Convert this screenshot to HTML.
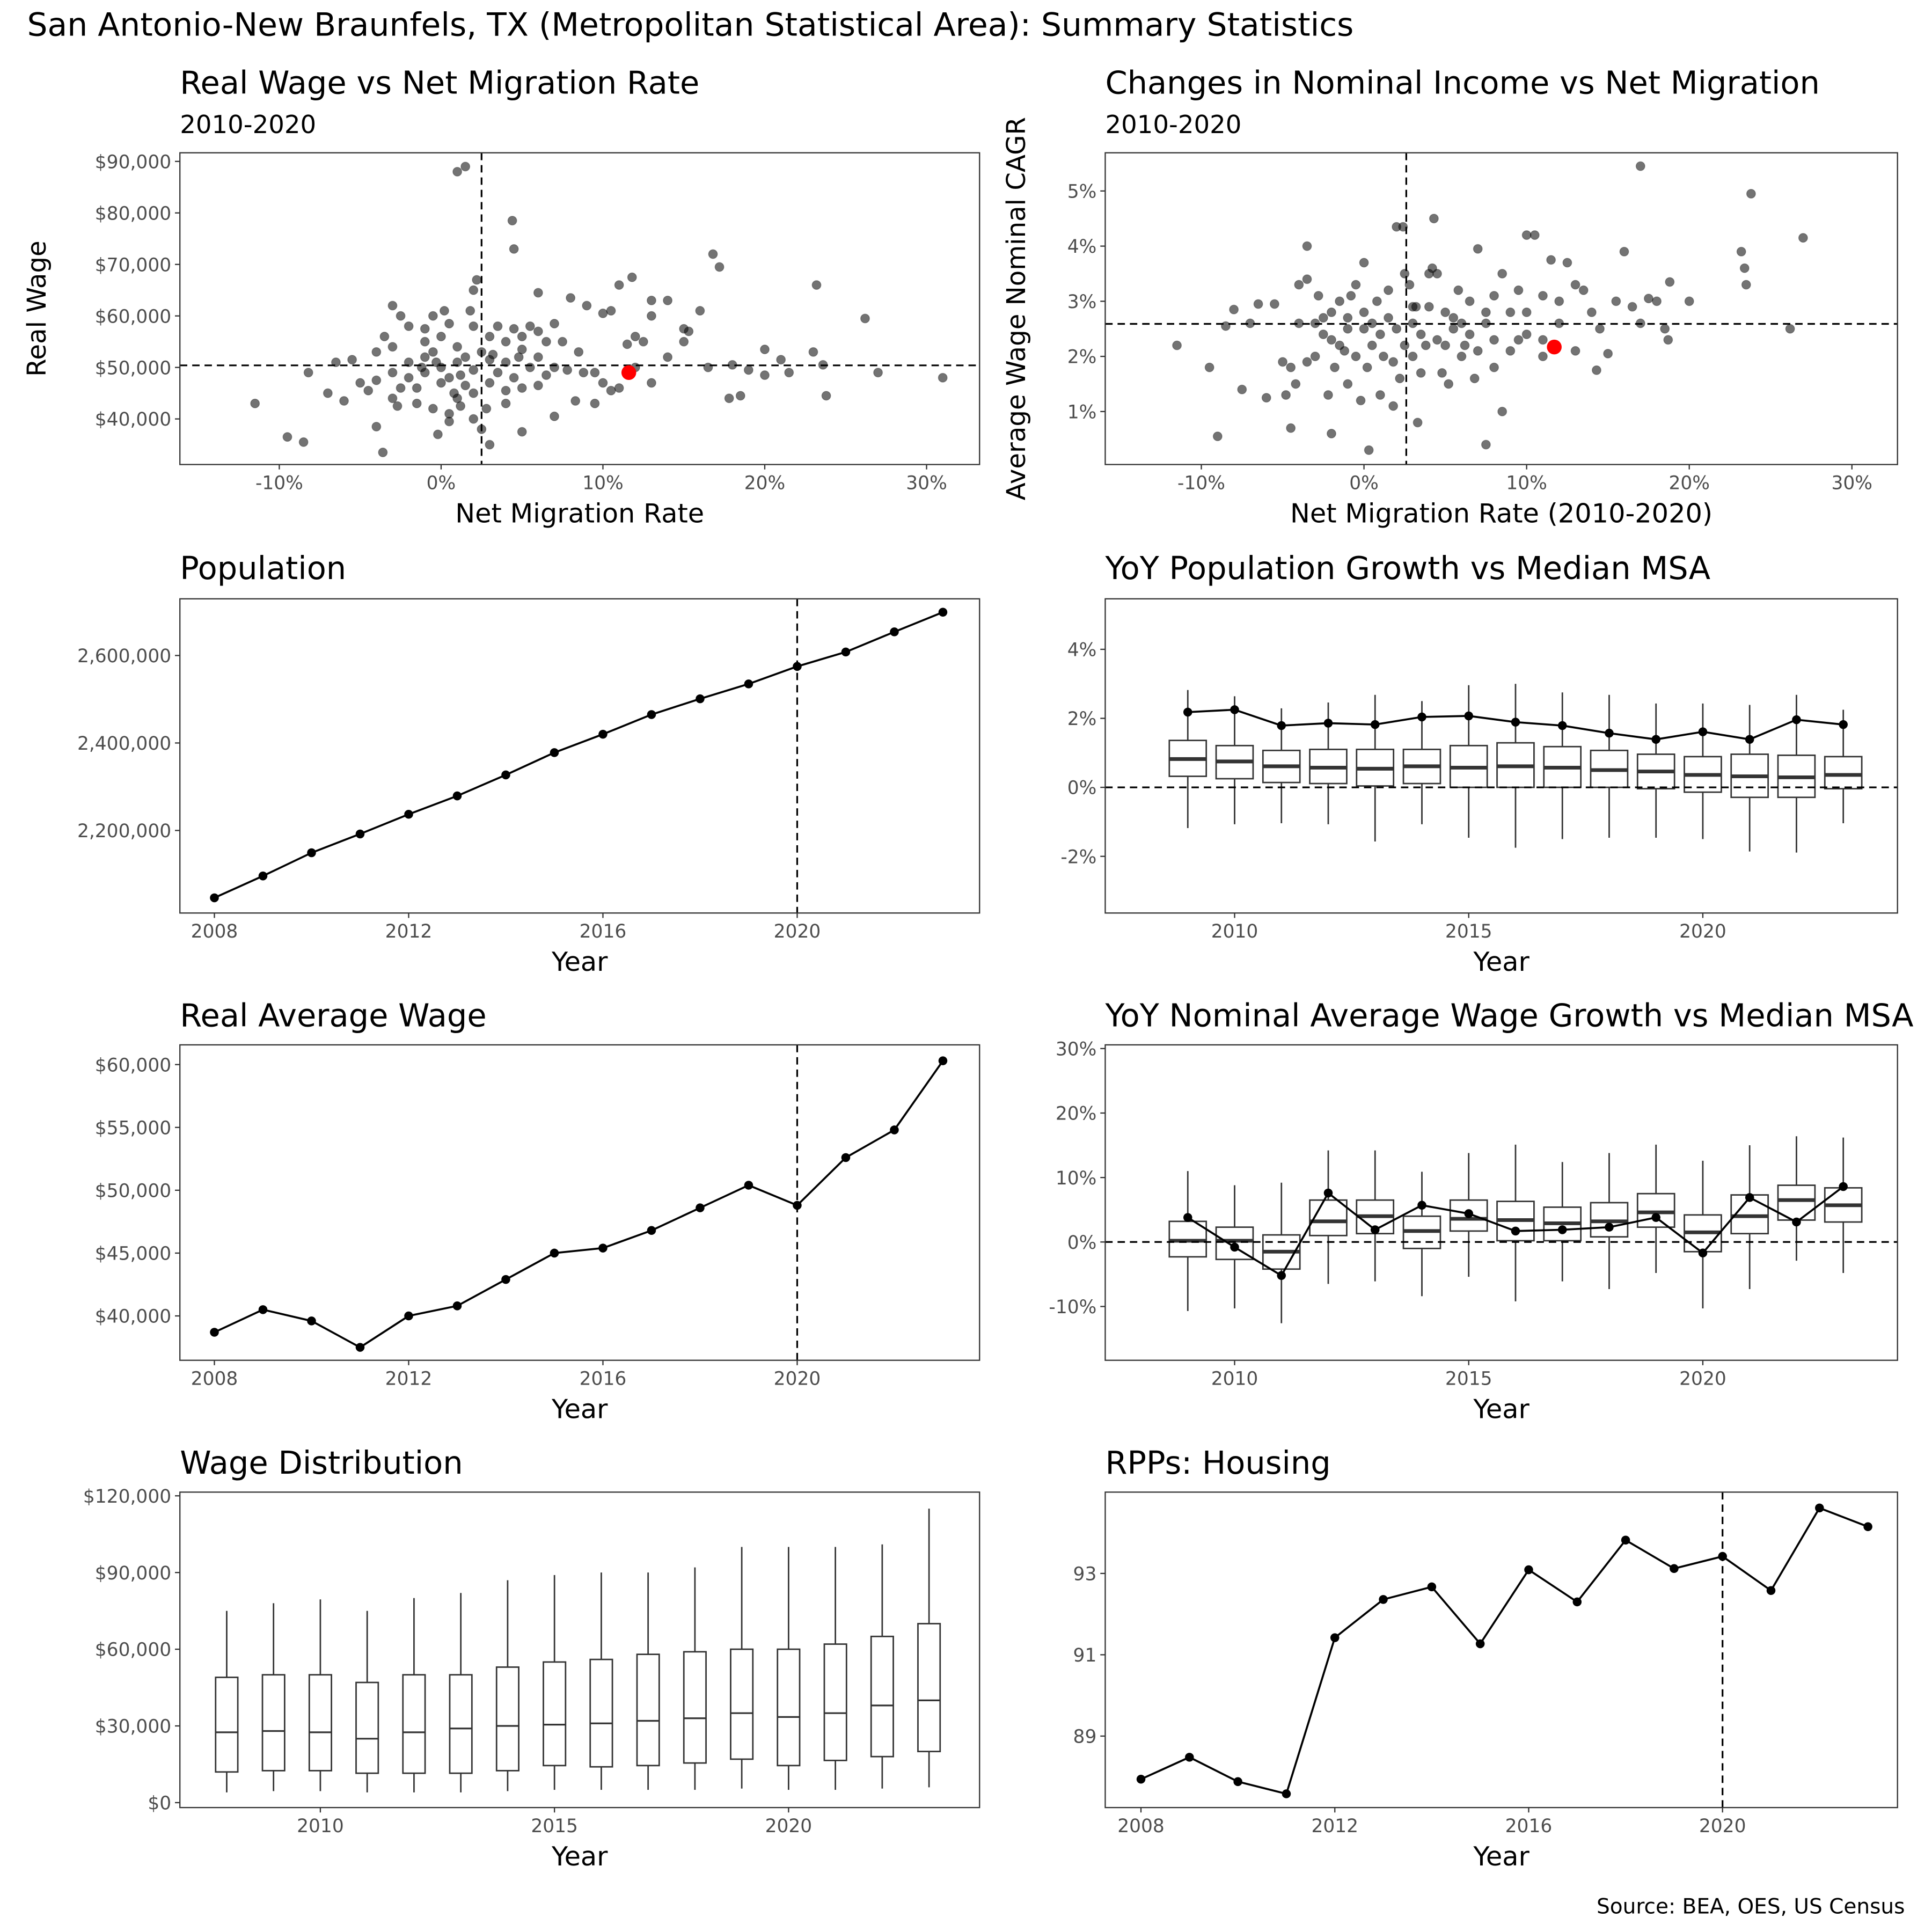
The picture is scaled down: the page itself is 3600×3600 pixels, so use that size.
<!DOCTYPE html>
<html><head><meta charset="utf-8">
<style>
html,body{margin:0;padding:0;background:#fff;}
svg{display:block;}
text{font-family:"DejaVu Sans","Liberation Sans",sans-serif;}
</style></head>
<body>
<svg id="chart" width="3600" height="3600" viewBox="0 0 1568 1568" xmlns="http://www.w3.org/2000/svg">
<rect x="0" y="0" width="1568" height="1568" fill="#fff"/>
<text x="22" y="29" font-size="26.1" fill="#000">San Antonio-New Braunfels, TX (Metropolitan Statistical Area): Summary Statistics</text>
<text x="1546" y="1553" font-size="17" text-anchor="end" fill="#000">Source: BEA, OES, US Census</text>
</svg>
<script>
// ---------- DATA ----------
const scatter1Mig = [1.0,1.5,4.4,4.5,16.8,17.2,23.2,26.2,31,27,23.8,23.6,23,21,20,20,21.5,18,18.5,17.8,19,16,15,15.3,14,13,13,12,12.5,11.5,11.8,11,10,10.5,9,8,7,6,5,6.5,7.5,8.5,9.5,10,10.5,11,12,13,14,15,16.5,7,8.3,9.5,5,4,3,2.5,2,-3.6,-4,-9.5,-8.5,-11.5,-8.2,-7,-6,-5,-6.5,-5.5,-4,-3,-3.5,-3,-2.5,-2,-1,-1,0,-0.5,0.2,0.5,1,1.5,1.8,2,2.2,2,3,3.5,4,4.5,5.5,6,0,-1,-2,-2.5,-3,-1.5,-0.5,0.5,1,1.5,2,3,3.5,4,4.5,5,5.5,6,6.5,7,-2,-1,0.5,1,2.5,3,-3,-4,-4.5,-0.5,0,1.2,2.8,3.2,-1.5,0.8,-2.7,-0.2,0.5,6,7.8,8.8,5,4,-1.2,-0.3,2,1.2,4.8];
const scatter1Wage = [88,89,78.5,73,72,69.5,66,59.5,48,49,44.5,50.5,53,51.5,53.5,48.5,49,50.5,44.5,44,49.5,61,57.5,57,63,63,60,56,55,54.5,67.5,66,60.5,61,62,63.5,58.5,64.5,56,55,55,53,49,47,45.5,46,50,47,52,55,50,40.5,43.5,43,37.5,43,35,38,40,33.5,38.5,36.5,35.5,43,49,45,43.5,47,51,51.5,53,54,56,62,60,58,55,57.5,56,60,61,58.5,54,52,61,65,67,58,56,58,55,57.5,58,57,50,49,48,46,44,43,42,41,44,46.5,45,47,49,51,48,46,50,52,48.5,50,51,52,48,51,53,51.5,49,47.5,45.5,53,47,42.5,42,52.5,46,45,42.5,37,39.5,46.5,49.5,49,53.5,45.5,50,51,49.5,48.5,52];
const focus1 = {mig:11.6, wage:49.0};
const medMig = 2.5, medWage = 50.4;

const scatter2Mig = [-11.5,-9.5,-9,-8.5,-8,-7.5,-7,-6.5,-6,-5.5,-5,-4.5,-4.8,-4.5,-4,-3.5,-3.5,-3,-2.5,-2,-2,-1.5,-1,-1,-0.5,0,0,0.3,0.5,1,1.5,2,2.4,2.5,3,3,3.5,4,4.3,4.5,5,5.5,6,6.5,7,7.5,7.5,8,8.5,8.5,9,9.5,10,10,10.5,11,11.5,12,12.5,13,13,13.5,14,14.3,14.5,15,15.5,16,17,17,18,18.5,18.7,18.8,20,23.2,23.4,23.5,23.8,26.2,27,17.5,16.5,-3,-2.5,-2,-1.5,-1,-0.5,0.5,1,1.5,2,2.5,3,3.5,4,4.5,5,5.5,6,6.5,7,8,9,10,11,12,-4,-3.5,-2.8,-1.8,-0.8,0.2,0.8,1.8,2.8,3.8,4.8,5.8,6.8,-1.2,0,1.2,3.2,4.2,5.2,6.2,-2.2,-0.2,1.8,3.3,-4.2,2.2,8,9.5,11,7.5];
const scatter2Cagr = [2.2,1.8,0.55,2.55,2.85,1.4,2.6,2.95,1.25,2.95,1.9,1.8,1.3,0.7,3.3,3.4,4.0,2.6,2.7,0.6,2.3,3.0,2.5,1.5,3.3,2.8,3.7,0.3,2.2,1.3,3.2,4.35,4.35,3.5,2.9,2.0,1.7,3.5,4.5,3.5,2.8,2.5,2.0,3.0,3.95,2.6,0.4,3.1,1.0,3.5,2.8,3.2,2.4,4.2,4.2,3.1,3.75,3.0,3.7,2.1,3.3,3.2,2.8,1.75,2.5,2.05,3.0,3.9,5.45,2.6,3.0,2.5,2.3,3.35,3.0,3.9,3.6,3.3,4.95,2.5,4.15,3.05,2.9,2.0,2.4,2.8,2.2,2.7,2.0,2.6,2.4,2.7,2.5,2.2,2.6,2.4,2.9,2.3,2.2,2.7,2.6,2.4,2.1,2.3,2.1,2.8,2.3,2.6,2.6,1.9,3.1,1.8,3.1,1.8,3.0,1.9,3.3,2.2,1.7,3.2,1.6,2.1,2.5,2.0,2.9,3.6,1.5,2.2,1.3,1.2,1.1,0.8,1.5,1.6,1.8,2.3,2.0,2.8];
const focus2 = {mig:11.7, cagr:2.17};
const medMig2 = 2.6, medCagr = 2.59;

const popYears = [2008,2009,2010,2011,2012,2013,2014,2015,2016,2017,2018,2019,2020,2021,2022,2023];
const popValues = [2046,2096,2149,2192,2237,2279,2327,2378,2420,2465,2501,2535,2575,2608,2654,2699]; // thousands

const growthYears = [2009,2010,2011,2012,2013,2014,2015,2016,2017,2018,2019,2020,2021,2022,2023];
const popGrowthLine = [2.18,2.25,1.79,1.86,1.82,2.04,2.07,1.89,1.79,1.57,1.39,1.61,1.39,1.96,1.82];
const popGrowthQ3 = [1.36,1.21,1.07,1.1,1.1,1.1,1.21,1.29,1.18,1.07,0.96,0.89,0.96,0.93,0.89];
const popGrowthMed = [0.82,0.75,0.61,0.57,0.54,0.61,0.57,0.61,0.57,0.5,0.46,0.36,0.32,0.29,0.36];
const popGrowthQ1 = [0.32,0.25,0.14,0.11,0.04,0.11,0,0,0,0,-0.04,-0.14,-0.29,-0.29,-0.04];
const popGrowthHi = [2.82,2.64,2.29,2.46,2.68,2.5,2.96,3.0,2.75,2.68,2.43,2.43,2.39,2.68,2.25];
const popGrowthLo = [-1.18,-1.07,-1.04,-1.07,-1.57,-1.07,-1.46,-1.75,-1.5,-1.46,-1.46,-1.5,-1.86,-1.89,-1.04];

const realWage = [38.7,40.5,39.6,37.5,40.0,40.8,42.9,45.0,45.4,46.8,48.6,50.4,48.8,52.6,54.8,60.3]; // thousands

const wageGrowthLine = [3.8,-0.8,-5.2,7.6,1.9,5.7,4.4,1.7,1.9,2.3,3.8,-1.7,6.9,3.1,8.6];
const wageGrowthQ3 = [3.2,2.3,1.1,6.5,6.5,4.0,6.5,6.3,5.4,6.1,7.5,4.2,7.3,8.8,8.4];
const wageGrowthMed = [0.2,0.2,-1.5,3.2,4.0,1.7,3.6,3.4,2.9,3.2,4.6,1.5,4.0,6.5,5.7];
const wageGrowthQ1 = [-2.3,-2.7,-4.2,1.0,1.3,-1.0,1.7,0.2,0.2,0.8,2.3,-1.5,1.3,3.4,3.1];
const wageGrowthHi = [11,8.8,9.2,14.2,14.2,10.9,13.8,15.1,12.4,13.8,15.1,12.6,15.0,16.4,16.2];
const wageGrowthLo = [-10.7,-10.3,-12.6,-6.5,-6.1,-8.4,-5.4,-9.2,-6.1,-7.3,-4.8,-10.3,-7.3,-2.9,-4.8];

const distQ3 = [49,50,50,47,50,50,53,55,56,58,59,60,60,62,65,70];
const distMed = [27.5,28,27.5,25,27.5,29,30,30.5,31,32,33,35,33.5,35,38,40];
const distQ1 = [12,12.5,12.5,11.5,11.5,11.5,12.5,14.5,14,14.5,15.5,17,14.5,16.5,18,20];
const distHi = [75,78,79.5,75,80,82,87,89,90,90,92,100,100,100,101,115];
const distLo = [4,4.5,4.5,4,4,4,4.5,5,5,5,5,5.5,5,5,5.5,6];

const rppHousing = [87.94,88.48,87.88,87.58,91.42,92.36,92.67,91.27,93.09,92.3,93.82,93.12,93.42,92.58,94.61,94.15];

const tick1X = ["-10%","0%","10%","20%","30%"], tick1XV=[-10,0,10,20,30];
const tick1Y = ["$40,000","$50,000","$60,000","$70,000","$80,000","$90,000"], tick1YV=[40,50,60,70,80,90];
const tick2Y = ["1%","2%","3%","4%","5%"], tick2YV=[1,2,3,4,5];
const tickPopY = ["2,200,000","2,400,000","2,600,000"], tickPopYV=[2200,2400,2600];
const tickYear4 = ["2008","2012","2016","2020"], tickYear4V=[2008,2012,2016,2020];
const tickYear5 = ["2010","2015","2020"], tickYear5V=[2010,2015,2020];
const tickPGY = ["-2%","0%","2%","4%"], tickPGYV=[-2,0,2,4];
const tickWY = ["$40,000","$45,000","$50,000","$55,000","$60,000"], tickWYV=[40,45,50,55,60];
const tickWGY = ["-10%","0%","10%","20%","30%"], tickWGYV=[-10,0,10,20,30];
const tickDY = ["$0","$30,000","$60,000","$90,000","$120,000"], tickDYV=[0,30,60,90,120];
const tickRY = ["89","91","93"], tickRYV=[89,91,93];

// ---------- HELPERS ----------
const NS="http://www.w3.org/2000/svg";
const svg=document.getElementById('chart');
function el(tag,attrs,parent){const e=document.createElementNS(NS,tag);for(const k in attrs)e.setAttribute(k,attrs[k]);(parent||svg).appendChild(e);return e;}
function txt(s,attrs,parent){const e=el('text',attrs,parent);e.textContent=s;return e;}
function lin(d0,d1,r0,r1){return v=>r0+(v-d0)*(r1-r0)/(d1-d0);}

function panel(name,x0,x1,y0,y1,sx,sy,xt,xtv,yt,ytv,title,subtitle,xlab,ylab,titleY,ylabX){
  const g=el('g',{});
  
  
  const t=txt(title,{x:x0,y:titleY,'font-size':25.7,fill:'#000'},g);
  
  
  if(subtitle){const s=txt(subtitle,{x:x0,y:titleY+32,'font-size':20.3,fill:'#000'},g);
    
    }
  xtv.forEach((v,i)=>{const X=sx(v);
    el('line',{x1:X,x2:X,y1:y1,y2:y1+4,stroke:'#333','stroke-width':1},g);
    const l=txt(xt[i],{x:X,y:y1+20,'font-size':15,'text-anchor':'middle',fill:'#4d4d4d'},g);
    
    });
  ytv.forEach((v,i)=>{const Y=sy(v);
    el('line',{x1:x0-4,x2:x0,y1:Y,y2:Y,stroke:'#333','stroke-width':1},g);
    const l=txt(yt[i],{x:x0-7,y:Y+5.5,'font-size':15,'text-anchor':'end',fill:'#4d4d4d'},g);
    
    });
  const xl=txt(xlab,{x:(x0+x1)/2,y:y1+47,'font-size':21.5,'text-anchor':'middle',fill:'#000'},g);
  
  
  if(ylab){const cx=ylabX, cy=(y0+y1)/2;
    const yl=txt(ylab,{x:cx,y:cy,'font-size':21,'text-anchor':'middle',fill:'#000',transform:`rotate(-90 ${cx} ${cy})`},g);
    
    }
  const body=el('g',{},g);
  
  
  const border=el('rect',{x:x0,y:y0,width:x1-x0,height:y1-y0,fill:'none',stroke:'#333','stroke-width':1},g);
  
  
  return body;
}
function dashH(g,x0,x1,Y){el('line',{x1:x0,x2:x1,y1:Y,y2:Y,stroke:'#000','stroke-width':1.4,'stroke-dasharray':'6,4'},g);}
function dashV(g,X,y0,y1){el('line',{x1:X,x2:X,y1:y0,y2:y1,stroke:'#000','stroke-width':1.4,'stroke-dasharray':'6,4'},g);}
function lineSeries(g,xs,ys,sx,sy,name){
  const pts=xs.map((x,i)=>sx(x)+','+sy(ys[i])).join(' ');
  const pl=el('polyline',{points:pts,fill:'none',stroke:'#000','stroke-width':1.6},g);
  
  
  xs.forEach((x,i)=>{const c=el('circle',{cx:sx(x),cy:sy(ys[i]),r:3.6,fill:'#000'},g);
    
    });
}
function boxes(g,xs,q1,med,q3,lo,hi,sx,sy,hw,name,medW){
  xs.forEach((x,i)=>{const X=sx(x);
    const b=el('g',{},g);
    
    
    el('line',{x1:X,x2:X,y1:sy(hi[i]),y2:sy(q3[i]),stroke:'#333','stroke-width':1.2},b);
    el('line',{x1:X,x2:X,y1:sy(q1[i]),y2:sy(lo[i]),stroke:'#333','stroke-width':1.2},b);
    el('rect',{x:X-hw,y:sy(q3[i]),width:2*hw,height:sy(q1[i])-sy(q3[i]),fill:'none',stroke:'#333','stroke-width':1.2},b);
    el('line',{x1:X-hw,x2:X+hw,y1:sy(med[i]),y2:sy(med[i]),stroke:'#333','stroke-width':medW},b);
  });
}
function scatterPts(g,xs,ys,sx,sy){
  xs.forEach((m,i)=>{const c=el('circle',{cx:sx(m),cy:sy(ys[i]),r:3.6,fill:'#000','fill-opacity':0.55,stroke:'#000','stroke-opacity':0.3,'stroke-width':0.6},g);
    
    });
}

// ---------- PANEL 1 ----------
{const x0=146,x1=795,y0=124,y1=377;
 const sx=lin(0,30,358,752), sy=lin(40,90,340,131);
 const g=panel('panel-real-wage-vs-migration',x0,x1,y0,y1,sx,sy,tick1X,tick1XV,tick1Y,tick1YV,'Real Wage vs Net Migration Rate','2010-2020','Net Migration Rate','Real Wage',76,37);
 dashV(g,sx(medMig),y0,y1); dashH(g,x0,x1,sy(medWage));
 scatterPts(g,scatter1Mig,scatter1Wage,sx,sy);
 const f=el('circle',{cx:sx(focus1.mig),cy:sy(focus1.wage),r:6,fill:'#ff0000'},g);
 
 }

// ---------- PANEL 2 ----------
{const x0=897,x1=1540,y0=124,y1=377;
 const sx=lin(0,30,1107,1503), sy=lin(1,5,334,155);
 const g=panel('panel-income-vs-migration',x0,x1,y0,y1,sx,sy,tick1X,tick1XV,tick2Y,tick2YV,'Changes in Nominal Income vs Net Migration','2010-2020','Net Migration Rate (2010-2020)','Average Wage Nominal CAGR',76,832);
 dashV(g,sx(medMig2),y0,y1); dashH(g,x0,x1,sy(medCagr));
 scatterPts(g,scatter2Mig,scatter2Cagr,sx,sy);
 const f=el('circle',{cx:sx(focus2.mig),cy:sy(focus2.cagr),r:6,fill:'#ff0000'},g);
 
 }

// ---------- PANEL 3 ----------
{const x0=146,x1=795,y0=486,y1=741;
 const sx=lin(2008,2020,174,647), sy=lin(2200,2600,674,532);
 const g=panel('panel-population',x0,x1,y0,y1,sx,sy,tickYear4,tickYear4V,tickPopY,tickPopYV,'Population',null,'Year',null,470,0);
 dashV(g,sx(2020),y0,y1);
 lineSeries(g,popYears,popValues,sx,sy,'population');}

// ---------- PANEL 4 ----------
{const x0=897,x1=1540,y0=486,y1=741;
 const sx=lin(2010,2020,1002,1382), sy=lin(0,4,639,527);
 const g=panel('panel-pop-growth',x0,x1,y0,y1,sx,sy,tickYear5,tickYear5V,tickPGY,tickPGYV,'YoY Population Growth vs Median MSA',null,'Year',null,470,0);
 boxes(g,growthYears,popGrowthQ1,popGrowthMed,popGrowthQ3,popGrowthLo,popGrowthHi,sx,sy,15,'pop-growth-box',3);
 dashH(g,x0,x1,sy(0));
 lineSeries(g,growthYears,popGrowthLine,sx,sy,'pop-growth');}

// ---------- PANEL 5 ----------
{const x0=146,x1=795,y0=848,y1=1104;
 const sx=lin(2008,2020,174,647), sy=lin(40,60,1068,864);
 const g=panel('panel-real-average-wage',x0,x1,y0,y1,sx,sy,tickYear4,tickYear4V,tickWY,tickWYV,'Real Average Wage',null,'Year',null,833,0);
 dashV(g,sx(2020),y0,y1);
 lineSeries(g,popYears,realWage,sx,sy,'real-wage');}

// ---------- PANEL 6 ----------
{const x0=897,x1=1540,y0=848,y1=1104;
 const sx=lin(2010,2020,1002,1382), sy=lin(0,30,1008,851);
 const g=panel('panel-wage-growth',x0,x1,y0,y1,sx,sy,tickYear5,tickYear5V,tickWGY,tickWGYV,'YoY Nominal Average Wage Growth vs Median MSA',null,'Year',null,833,0);
 boxes(g,growthYears,wageGrowthQ1,wageGrowthMed,wageGrowthQ3,wageGrowthLo,wageGrowthHi,sx,sy,15,'wage-growth-box',3);
 dashH(g,x0,x1,sy(0));
 lineSeries(g,growthYears,wageGrowthLine,sx,sy,'wage-growth');}

// ---------- PANEL 7 ----------
{const x0=146,x1=795,y0=1211,y1=1467;
 const sx=lin(2010,2020,260,640), sy=lin(0,120,1463,1214);
 const g=panel('panel-wage-distribution',x0,x1,y0,y1,sx,sy,tickYear5,tickYear5V,tickDY,tickDYV,'Wage Distribution',null,'Year',null,1196,0);
 boxes(g,popYears,distQ1,distMed,distQ3,distLo,distHi,sx,sy,9,'wage-dist-box',1.4);}

// ---------- PANEL 8 ----------
{const x0=897,x1=1540,y0=1211,y1=1467;
 const sx=lin(2008,2020,926,1398), sy=lin(89,93,1409,1277);
 const g=panel('panel-rpp-housing',x0,x1,y0,y1,sx,sy,tickYear4,tickYear4V,tickRY,tickRYV,'RPPs: Housing',null,'Year',null,1196,0);
 dashV(g,sx(2020),y0,y1);
 lineSeries(g,popYears,rppHousing,sx,sy,'rpp-housing');}
</script>
</body></html>
